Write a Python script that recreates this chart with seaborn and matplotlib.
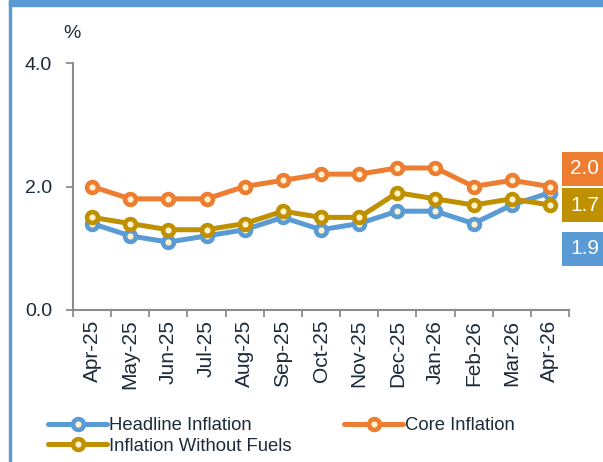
import numpy as np
import matplotlib
matplotlib.use("Agg")
import matplotlib.pyplot as plt
from matplotlib.patches import Rectangle
from matplotlib.ticker import FixedLocator
import seaborn as sns

# datos
months = ["Apr-25", "May-25", "Jun-25", "Jul-25", "Aug-25", "Sep-25", "Oct-25",
          "Nov-25", "Dec-25", "Jan-26", "Feb-26", "Mar-26", "Apr-26"]
headline = [1.4, 1.2, 1.1, 1.2, 1.3, 1.5, 1.3, 1.4, 1.6, 1.6, 1.4, 1.7, 1.9]
core = [2.0, 1.8, 1.8, 1.8, 2.0, 2.1, 2.2, 2.2, 2.3, 2.3, 2.0, 2.1, 2.0]
no_fuels = [1.5, 1.4, 1.3, 1.3, 1.4, 1.6, 1.5, 1.5, 1.9, 1.8, 1.7, 1.8, 1.7]
y_ticks = [0.0, 2.0, 4.0]

series = [
    ("Headline Inflation", headline, "#5B9BD5"),
    ("Core Inflation", core, "#ED7D31"),
    ("Inflation Without Fuels", no_fuels, "#BF9000"),
]
# desplazamiento (px) de las etiquetas de la derecha
label_offsets = [-56, 18, 0]

TEXT = "#1C2A3A"
SPINE = "#8C8C8C"

sns.set_style("white")
plt.rcParams["font.family"] = ["Liberation Sans", "DejaVu Sans"]

fig = plt.figure(figsize=(6.03, 4.62), dpi=100)
ax = fig.add_axes([73 / 603, 1 - 310 / 462, (569 - 73) / 603, (310 - 63) / 462])

x = np.arange(len(months))
for (name, vals, col), off in zip(series, label_offsets):
    sns.lineplot(x=x, y=vals, ax=ax, color=col, linewidth=3.6, marker="o",
                 markersize=7.8, markeredgewidth=3.3, markeredgecolor=col,
                 markerfacecolor="#FFF2CC", label=name, legend=False)
    ax.annotate(f"{vals[-1]:.1f}", xy=(x[-1], vals[-1]), xytext=(20, off),
                textcoords="offset pixels", ha="left", va="center",
                fontsize=15, color="white", annotation_clip=False,
                bbox=dict(boxstyle="square,pad=0.36", fc=col, ec="none"))

ax.set_xlim(-0.5, len(months) - 0.5)
ax.set_ylim(0, 4)
ax.set_yticks(y_ticks)
ax.set_yticklabels([f"{v:.1f}" for v in y_ticks])
ax.set_xticks(x)
ax.set_xticklabels(months, rotation=90)
ax.xaxis.set_minor_locator(FixedLocator(np.arange(len(months) + 1) - 0.5))
ax.tick_params(axis="x", which="major", length=0, pad=7, labelsize=15, labelcolor=TEXT)
ax.tick_params(axis="x", which="minor", length=5, width=1.3, color=SPINE, direction="out", bottom=True)
ax.tick_params(axis="y", length=5, width=1.3, color=SPINE, pad=10, labelsize=14,
               labelcolor=TEXT, direction="out", left=True)
ax.set_xlabel("")
ax.set_ylabel("")

sns.despine(ax=ax, top=True, right=True)
for s in ("left", "bottom"):
    ax.spines[s].set_color(SPINE)
    ax.spines[s].set_linewidth(1.5)

fig.text(71.5 / 603, 1 - 34 / 462, "%", ha="center", va="center", fontsize=14, color=TEXT)

# orden por filas: Headline, Core / Without Fuels
handles, labels = ax.get_legend_handles_labels()
order = [0, 2, 1]
leg = ax.legend([handles[i] for i in order], [labels[i] for i in order],
                loc="upper left", bbox_to_anchor=(48 / 603, 1 - 417 / 462),
                bbox_transform=fig.transFigure, ncol=2, frameon=False,
                fontsize=13.3, handlelength=3.2, handletextpad=0.1,
                columnspacing=2.85, labelspacing=0.2, borderpad=0, borderaxespad=0)
for t in leg.get_texts():
    t.set_color(TEXT)

# marco azul
fig.patches.append(Rectangle((9 / 603, 0), 2 / 603, 1, transform=fig.transFigure,
                             color="#5B9BD5", zorder=0))
fig.patches.append(Rectangle((9 / 603, 1 - 6 / 462), 1, 6 / 462, transform=fig.transFigure,
                             color="#5B9BD5", zorder=0))

fig.savefig("out.png", dpi=100)
